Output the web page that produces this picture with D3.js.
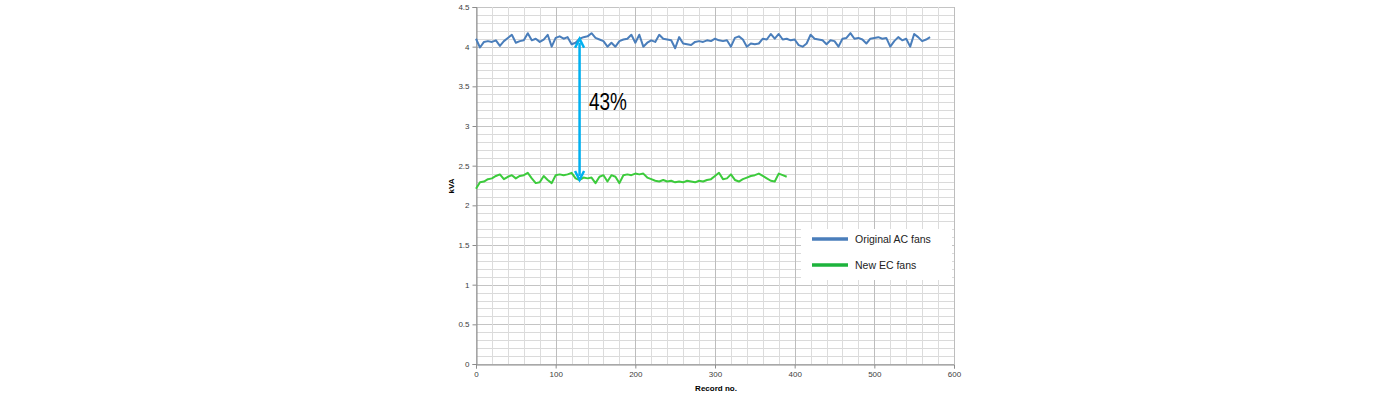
<!DOCTYPE html>
<html><head><meta charset="utf-8">
<script src="https://cdn.jsdelivr.net/npm/d3@7"></script>
<style>body{margin:0;background:#fff;}svg{display:block;}</style>
</head><body>
<script>
// ---- data ----
const recordStep = 5;
const acFans = [
 4.10,3.99,4.06,4.07,4.06,4.08,4.01,4.07,4.11,4.15,
 4.05,4.07,4.08,4.17,4.08,4.10,4.06,4.09,4.15,4.00,
 4.11,4.13,4.10,4.12,4.03,4.05,4.10,4.12,4.13,4.17,
 4.11,4.09,4.07,4.00,4.05,4.00,4.07,4.09,4.10,4.15,
 4.05,4.15,4.00,4.05,4.08,4.06,4.15,4.10,4.09,4.08,
 3.98,4.12,4.04,4.03,4.02,4.06,4.07,4.06,4.08,4.07,
 4.10,4.08,4.07,4.08,4.00,4.11,4.13,4.09,4.00,4.04,
 4.03,4.04,4.10,4.09,4.16,4.10,4.16,4.09,4.10,4.08,
 4.09,4.02,4.00,4.04,4.15,4.10,4.09,4.08,4.03,4.08,
 4.07,4.00,4.10,4.11,4.17,4.10,4.11,4.09,4.04,4.10,
 4.11,4.12,4.10,4.11,4.00,4.07,4.12,4.08,4.10,4.00,
 4.16,4.12,4.07,4.09,4.12
];
const ecFans = [
 2.21,2.29,2.30,2.33,2.34,2.37,2.39,2.33,2.36,2.38,
 2.34,2.37,2.38,2.41,2.34,2.28,2.29,2.37,2.32,2.28,
 2.38,2.39,2.38,2.39,2.41,2.34,2.32,2.35,2.34,2.35,
 2.28,2.36,2.38,2.30,2.38,2.36,2.28,2.38,2.39,2.38,
 2.40,2.39,2.40,2.35,2.33,2.31,2.30,2.32,2.30,2.31,
 2.29,2.30,2.29,2.31,2.30,2.29,2.31,2.30,2.32,2.33,
 2.37,2.41,2.33,2.34,2.39,2.32,2.30,2.33,2.35,2.37,
 2.38,2.40,2.37,2.34,2.31,2.30,2.40,2.38,2.36
];
const seriesNames = ["Original AC fans","New EC fans"];
const xTicks = [0,100,200,300,400,500,600];
const yTicks = [0,0.5,1,1.5,2,2.5,3,3.5,4,4.5];
const arrowRecord = 130, arrowTop = 4.1, arrowBottom = 2.32;
const annotation = "43%";

// ---- layout ----
const W = 1400, H = 396;
const svg = d3.select("body").append("svg").attr("width", W).attr("height", H);
const defs = svg.append("defs");
const x = d3.scaleLinear().domain([0,600]).range([476,954]);
const y = d3.scaleLinear().domain([0,4.5]).range([364,7]);
const font = "'Liberation Sans', Arial, sans-serif";

// grid
const g = svg.append("g");
g.selectAll(".hg").data(d3.range(0,46).map(i=>i/10)).join("line")
  .attr("x1",x(0)).attr("x2",x(600))
  .attr("y1",d=>Math.round(y(d))+0.5).attr("y2",d=>Math.round(y(d))+0.5)
  .attr("stroke",(d,i)=> i%5===0 ? "#c4c4c4" : "#dadada").attr("stroke-width",1);
g.selectAll(".vg").data(d3.range(0,601,20)).join("line")
  .attr("y1",y(0)).attr("y2",y(4.5))
  .attr("x1",d=>Math.round(x(d))+0.5).attr("x2",d=>Math.round(x(d))+0.5)
  .attr("stroke",d=> d%100===0 ? "#bdbdbd" : "#dcdcdc").attr("stroke-width",1);

// axes
const xAxis = svg.append("g").attr("transform",`translate(0,${Math.round(y(0))+0.5})`)
  .call(d3.axisBottom(x).tickValues(xTicks).tickSize(4).tickPadding(3));
const yAxis = svg.append("g").attr("transform",`translate(${Math.round(x(0))+0.5},0)`)
  .call(d3.axisLeft(y).tickValues(yTicks).tickSize(4).tickPadding(3).tickFormat(d3.format("")));
[xAxis,yAxis].forEach(a=>{
  a.select(".domain").attr("stroke","#8c8c8c");
  a.selectAll(".tick line").attr("stroke","#8c8c8c");
  a.selectAll("text").attr("fill","#404040").attr("font-family",font).attr("font-size",8);
});

svg.append("text").attr("x",716).attr("y",391).attr("text-anchor","middle")
  .attr("font-family",font).attr("font-size",8).attr("font-weight","bold").attr("fill","#000")
  .text("Record no.");
svg.append("text").attr("transform","translate(454,186) rotate(-90)").attr("text-anchor","middle")
  .attr("font-family",font).attr("font-size",8).attr("font-weight","bold").attr("fill","#000")
  .text("kVA");

// lines
const line = d3.line().x((d,i)=>x(i*recordStep)).y(d=>y(d));
svg.append("path").datum(acFans).attr("d",line).attr("fill","none")
  .attr("stroke","#4a7ebb").attr("stroke-width",2).attr("stroke-linejoin","round");
svg.append("path").datum(ecFans).attr("d",line).attr("fill","none")
  .attr("stroke","#3ccb3c").attr("stroke-width",2).attr("stroke-linejoin","round");

// arrow
const ac = "#00b0f0";
const ax = x(arrowRecord), ay1 = y(arrowTop), ay2 = y(arrowBottom);
svg.append("line").attr("x1",ax).attr("x2",ax).attr("y1",ay1+4).attr("y2",ay2-4)
  .attr("stroke",ac).attr("stroke-width",2.5);
svg.append("path").attr("d",`M${ax-4.5},${ay1+9} L${ax},${ay1} L${ax+4.5},${ay1+9}`)
  .attr("fill","none").attr("stroke",ac).attr("stroke-width",2.5);
svg.append("path").attr("d",`M${ax-4.5},${ay2-9} L${ax},${ay2} L${ax+4.5},${ay2-9}`)
  .attr("fill","none").attr("stroke",ac).attr("stroke-width",2.5);
svg.append("text").attr("x",589).attr("y",110).attr("font-family",font).attr("font-size",23)
  .attr("textLength",38).attr("lengthAdjust","spacingAndGlyphs").attr("fill","#000")
  .text(annotation);

// legend
const lg = svg.append("g");
lg.append("rect").attr("x",801).attr("y",229).attr("width",151).attr("height",51).attr("fill","#fff");
const legColors = ["#4a7ebb","#1db33c"];
seriesNames.forEach((n,i)=>{
  const yy = 239 + i*26;
  lg.append("line").attr("x1",812).attr("x2",848).attr("y1",yy).attr("y2",yy)
    .attr("stroke",legColors[i]).attr("stroke-width",3.5);
  lg.append("text").attr("x",855).attr("y",yy+4).attr("font-family",font).attr("font-size",10.5)
    .attr("fill","#222").text(n);
});
</script>
</body></html>
